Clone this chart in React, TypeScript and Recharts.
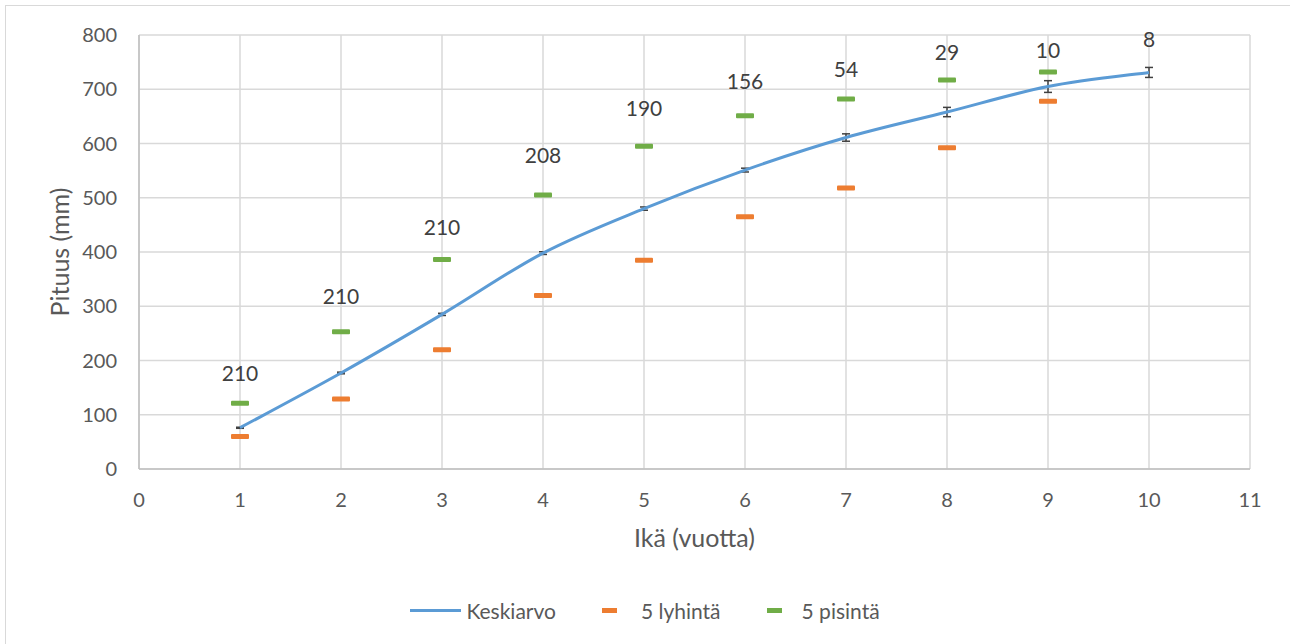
import {
  CartesianGrid,
  ComposedChart,
  ErrorBar,
  LabelList,
  Legend,
  Line,
  Scatter,
  XAxis,
  YAxis,
} from "recharts";

// Ikä vuosina
const ages = [1, 2, 3, 4, 5, 6, 7, 8, 9, 10];
// Keskiarvo (mm) ja keskivirhe
const means = [76, 177, 285, 398, 480, 551, 611, 658, 705, 731];
const errors = [1, 1.5, 2, 2.5, 3, 3.5, 6.8, 8.6, 10.8, 9.2];
// 5 lyhintä / 5 pisintä (ei arvoa 10-vuotiaille)
const shortest = [60, 129, 220, 320, 385, 465, 518, 592, 678];
const longest = [121, 253, 386, 505, 595, 651, 682, 717, 732];
// otoskoko n ja sen tekstin korkeus (mm-asteikolla)
const counts = [210, 210, 210, 208, 190, 156, 54, 29, 10, 8];
const countLabelAt = [176, 317, 446, 577, 665, 715, 737, 768, 772, 791];

const xTicks = [0, 1, 2, 3, 4, 5, 6, 7, 8, 9, 10, 11];
const yTicks = [0, 100, 200, 300, 400, 500, 600, 700, 800];

const BLUE = "#5B9BD5";
const ORANGE = "#ED7D31";
const GREEN = "#70AD47";
const TEXT = "#595959";
const FONT = "Lato, 'Open Sans', sans-serif";

const data = ages.map((age, i) => ({ age, mean: means[i], err: errors[i] }));
const shortData = shortest.map((v, i) => ({ age: ages[i], short: v }));
const longData = longest.map((v, i) => ({ age: ages[i], long: v }));
const labelData = counts.map((n, i) => ({ age: ages[i], labelAt: countLabelAt[i], n }));

// Excelin tasoitettu viiva: Catmull-Rom -tyyppinen bezier-käyrä
const smoothCurve = (context: any) => {
  let pts: number[][] = [];
  return {
    areaStart() {},
    areaEnd() {},
    lineStart() {
      pts = [];
    },
    point(x: number, y: number) {
      pts.push([+x, +y]);
    },
    lineEnd() {
      if (!pts.length) return;
      context.moveTo(pts[0][0], pts[0][1]);
      for (let i = 0; i < pts.length - 1; i++) {
        const p0 = pts[i - 1] || pts[i];
        const p1 = pts[i];
        const p2 = pts[i + 1];
        const p3 = pts[i + 2] || p2;
        context.bezierCurveTo(
          p1[0] + (p2[0] - p0[0]) / 6,
          p1[1] + (p2[1] - p0[1]) / 6,
          p2[0] - (p3[0] - p1[0]) / 6,
          p2[1] - (p3[1] - p1[1]) / 6,
          p2[0],
          p2[1]
        );
      }
    },
  };
};

const dash = (color: string) => (props: any) => (
  <rect x={props.cx - 9} y={props.cy - 2.5} width={18} height={5} rx={1} fill={color} />
);

const LegendContent = () => (
  <div
    style={{
      display: "flex",
      justifyContent: "center",
      alignItems: "center",
      height: 30,
      fontFamily: FONT,
      fontSize: 21,
      color: TEXT,
    }}
  >
    <span style={{ width: 51, height: 3, background: BLUE, marginRight: 5 }} />
    <span style={{ marginRight: 46 }}>Keskiarvo</span>
    <span style={{ width: 15, height: 5, background: ORANGE, marginRight: 24 }} />
    <span style={{ marginRight: 46 }}>5 lyhintä</span>
    <span style={{ width: 15, height: 5, background: GREEN, marginRight: 20 }} />
    <span>5 pisintä</span>
  </div>
);

const App = () => {
  return (
    <div
      style={{
        position: "absolute",
        left: 0,
        top: 0,
        width: 1290,
        height: 644,
        background: "#fff",
        fontFamily: FONT,
      }}
    >
      <div
        style={{
          position: "absolute",
          left: 5,
          top: 5,
          width: 1300,
          height: 660,
          borderLeft: "1.5px solid #d9d9d9",
          borderTop: "1.5px solid #d9d9d9",
        }}
      />
      <ComposedChart
        width={1290}
        height={644}
        data={data}
        margin={{ top: 35, right: 40, left: 0, bottom: 19 }}
        style={{ fontFamily: FONT }}
      >
        <CartesianGrid stroke="#d9d9d9" strokeWidth={1.5} />
        <XAxis
          dataKey="age"
          type="number"
          domain={[0, 11]}
          ticks={xTicks}
          interval={0}
          height={126}
          tickSize={0}
          tickMargin={24}
          stroke="#bfbfbf"
          strokeWidth={1.5}
          tick={{ fill: TEXT, fontSize: 20 }}
          label={{
            value: "Ikä (vuotta)",
            position: "insideTop",
            offset: 60,
            fill: TEXT,
            fontSize: 25,
          }}
        />
        <YAxis
          type="number"
          domain={[0, 800]}
          ticks={yTicks}
          interval={0}
          width={139}
          tickSize={0}
          tickMargin={22}
          stroke="#bfbfbf"
          strokeWidth={1.5}
          tick={{ fill: TEXT, fontSize: 20 }}
          label={{
            content: ({ viewBox }: any) => {
              const x = viewBox.x + 59;
              const y = viewBox.y + viewBox.height / 2;
              return (
                <text
                  x={x}
                  y={y}
                  transform={`rotate(-90 ${x} ${y})`}
                  textAnchor="middle"
                  dominantBaseline="central"
                  fill={TEXT}
                  fontSize={25}
                >
                  Pituus (mm)
                </text>
              );
            },
          }}
        />
        <Line
          dataKey="mean"
          type={smoothCurve as any}
          stroke={BLUE}
          strokeWidth={3}
          dot={false}
          isAnimationActive={false}
        >
          <ErrorBar dataKey="err" direction="y" width={4} stroke="#404040" strokeWidth={1.5} />
        </Line>
        <Scatter data={shortData} dataKey="short" shape={dash(ORANGE)} isAnimationActive={false} />
        <Scatter data={longData} dataKey="long" shape={dash(GREEN)} isAnimationActive={false} />
        <Scatter data={labelData} dataKey="labelAt" shape={() => <g />} isAnimationActive={false}>
          <LabelList dataKey="n" position="center" fill="#404040" fontSize={21} />
        </Scatter>
        <Legend
          verticalAlign="bottom"
          content={<LegendContent />}
          wrapperStyle={{ left: 0, width: 1290 }}
        />
      </ComposedChart>
    </div>
  );
};

export default App;
